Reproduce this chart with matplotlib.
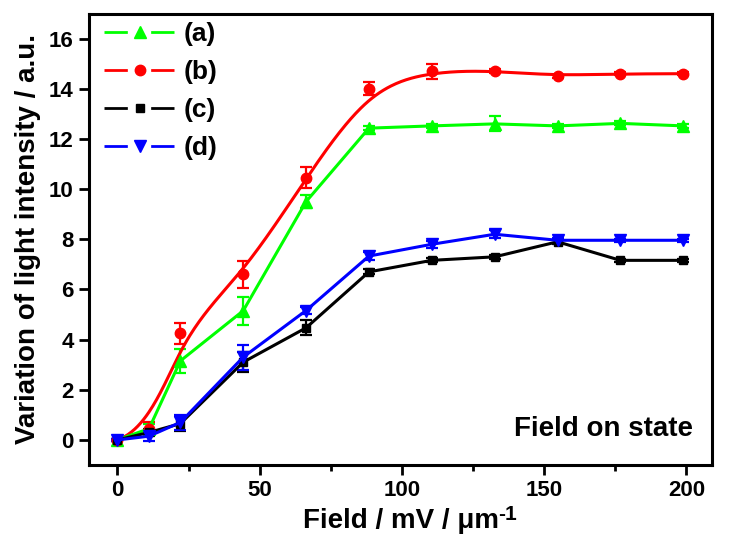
import numpy as np
import matplotlib.pyplot as plt
from matplotlib.lines import Line2D
from matplotlib.ticker import MultipleLocator

plt.rcParams['font.family'] = ['Liberation Sans', 'DejaVu Sans']
plt.rcParams['font.weight'] = 'bold'

field = [0, 11.1, 22.1, 44.2, 66.3, 88.4, 110.5, 132.6, 154.7, 176.8, 198.9]

a_val = [0, 0.45, 3.15, 5.15, 9.5, 12.43, 12.52, 12.6, 12.52, 12.62, 12.52]
a_err = [0.05, 0.2, 0.48, 0.55, 0.25, 0.08, 0.08, 0.3, 0.08, 0.08, 0.08]
b_val = [0, 0.45, 4.25, 6.6, 10.45, 14.0, 14.7, 14.72, 14.5, 14.6, 14.6]
b_err = [0.05, 0.25, 0.43, 0.55, 0.42, 0.25, 0.3, 0.08, 0.06, 0.06, 0.06]
c_val = [0, 0.3, 0.65, 3.1, 4.47, 6.7, 7.16, 7.3, 7.9, 7.16, 7.16]
c_err = [0.05, 0.15, 0.3, 0.4, 0.3, 0.1, 0.08, 0.08, 0.1, 0.05, 0.05]
d_val = [0, 0.15, 0.7, 3.3, 5.16, 7.33, 7.8, 8.2, 7.96, 7.96, 7.96]
d_err = [0.05, 0.2, 0.3, 0.5, 0.15, 0.15, 0.15, 0.15, 0.1, 0.05, 0.05]


def bspline(px, py, n=400, k=3):
    # clamped cubic B-spline with the points as control points (Origin "B-Spline" connect)
    px = np.asarray(px, float)
    py = np.asarray(py, float)
    m = len(px)
    knots = np.concatenate([[0.0] * k, np.linspace(0, 1, m - k + 1), [1.0] * k])
    t = np.linspace(0, 1, n)
    N = np.zeros((n, len(knots) - 1))
    for i in range(len(knots) - 1):
        N[:, i] = (knots[i] <= t) & (t < knots[i + 1])
    N[-1, m - 1] = 1.0
    for d in range(1, k + 1):
        newN = np.zeros((n, len(knots) - 1 - d))
        for i in range(len(knots) - 1 - d):
            left = 0.0
            right = 0.0
            den1 = knots[i + d] - knots[i]
            den2 = knots[i + d + 1] - knots[i + 1]
            if den1 > 0:
                left = (t - knots[i]) / den1 * N[:, i]
            if den2 > 0:
                right = (knots[i + d + 1] - t) / den2 * N[:, i + 1]
            newN[:, i] = left + right
        N = newN
    return N @ px, N @ py


fig = plt.figure(figsize=(7.29, 5.54), dpi=100)
ax = fig.add_axes([0.1221, 0.1606, 0.8546, 0.815])

lw = 2.2
ebkw = dict(elinewidth=1.6, capsize=4, capthick=1.6)

ax.errorbar(field, a_val, yerr=a_err, color='#00ff00', marker='^', ms=8, lw=lw, **ebkw)
bx, by = bspline(field, b_val)
ax.plot(bx, by, color='#ff0000', lw=lw)
ax.errorbar(field, b_val, yerr=b_err, color='#ff0000', marker='o', ms=7.5, ls='none', **ebkw)
ax.errorbar(field, c_val, yerr=c_err, color='black', marker='s', ms=6, lw=lw, **ebkw)
ax.errorbar(field, d_val, yerr=d_err, color='#0000ff', marker='v', ms=8, lw=lw, **ebkw)

ax.set_xlim(-10, 209)
ax.set_ylim(-1, 17)
ax.xaxis.set_major_locator(MultipleLocator(50))
ax.xaxis.set_minor_locator(MultipleLocator(25))
ax.yaxis.set_major_locator(MultipleLocator(2))
ax.tick_params(which='both', direction='out', width=2, labelsize=16, top=False, right=False)
ax.tick_params(which='major', length=7, pad=4)
ax.tick_params(which='minor', length=4)
for s in ax.spines.values():
    s.set_linewidth(2.2)

ax.set_xlabel('Field / mV / \u03bcm', fontsize=20, fontweight='bold', labelpad=5)
ax.annotate('-1', xy=(1.0, 1.12), xycoords=ax.xaxis.label, ha='left', va='top',
            fontsize=15, fontweight='bold')
ax.set_ylabel('Variation of light intensity / a.u.', fontsize=20, fontweight='bold', labelpad=6)

ax.text(0.969, 0.08, 'Field on state', transform=ax.transAxes, ha='right', va='center',
        fontsize=20, fontweight='bold')

# legend: line - marker - line
colors = ['#00ff00', '#ff0000', 'black', '#0000ff']
markers = ['^', 'o', 's', 'v']
sizes = [8, 7.5, 6, 8]
labels = ['(a)', '(b)', '(c)', '(d)']
handles = []
for col, mk, sz in zip(colors, markers, sizes):
    ln = Line2D([], [], color=col, lw=2, linestyle=(0, (8.4, 8.4)))
    mkr = Line2D([], [], color=col, marker=mk, ms=sz, ls='none')
    handles.append((ln, mkr))
ax.legend(handles, labels, loc='upper left', bbox_to_anchor=(0.024, 0.981), frameon=False,
          fontsize=19, handlelength=2.7, handletextpad=0.3, labelspacing=0.53,
          borderpad=0, borderaxespad=0)

fig.savefig('out.png', dpi=100)
